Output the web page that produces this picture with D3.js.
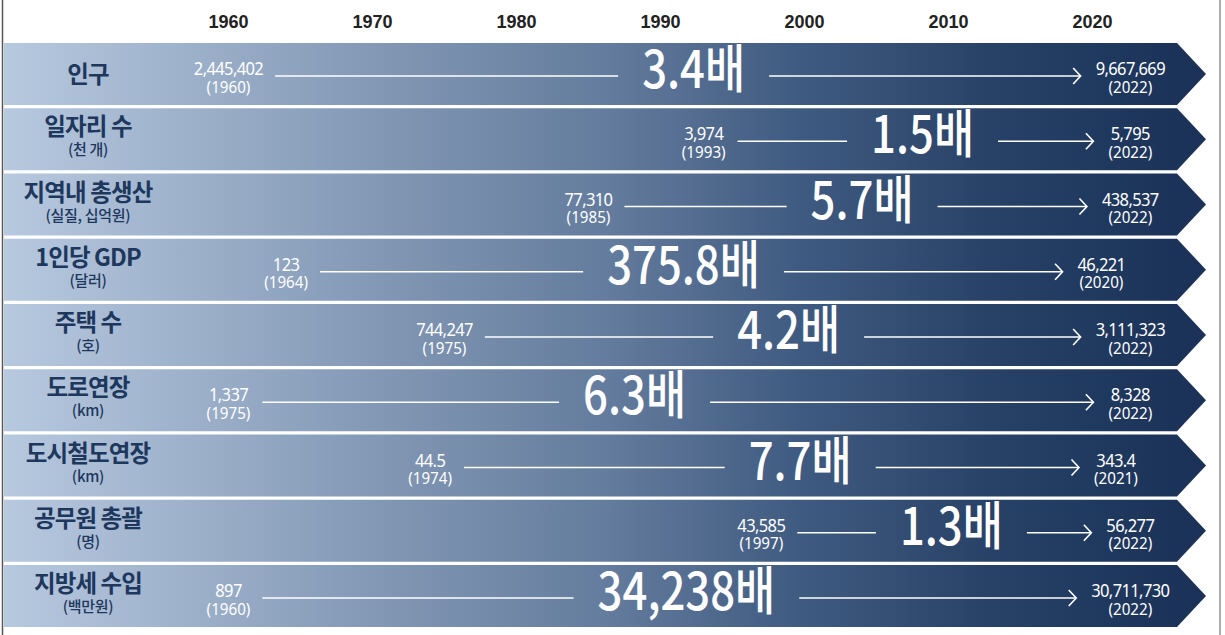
<!DOCTYPE html>
<html>
<head>
<meta charset="utf-8">
<script src="https://cdn.jsdelivr.net/npm/d3@7"></script>
<style>
  body { margin: 0; background: #fff; }
  svg { display: block; }
</style>
</head>
<body>
<div id="chart"></div>
<script>
const width = 1225,
  height = 635;

/* DATA */
const categories = ["인구", "일자리 수", "지역내 총생산", "1인당 GDP", "주택 수", "도로연장", "도시철도연장", "공무원 총괄", "지방세 수입"]
const units = ["", "(천 개)", "(실질, 십억원)", "(달러)", "(호)", "(km)", "(km)", "(명)", "(백만원)"]
const startValues = [2445402, 3974, 77310, 123, 744247, 1337, 44.5, 43585, 897]
const startYears = [1960, 1993, 1985, 1964, 1975, 1975, 1974, 1997, 1960]
const endValues = [9667669, 5795, 438537, 46221, 3111323, 8328, 343.4, 56277, 30711730]
const endYears = [2022, 2022, 2022, 2020, 2022, 2022, 2021, 2022, 2022]
const multipliers = ["3.4", "1.5", "5.7", "375.8", "4.2", "6.3", "7.7", "1.3", "34,238"]
const yearTicks = [1960, 1970, 1980, 1990, 2000, 2010, 2020]

// where the start label sits on the time axis (도로연장 is drawn at the 1960 column)
const startLabelYears = [1960, 1993, 1985, 1964, 1975, 1960, 1974, 1997, 1960]
// where the big "n배" badge sits on the time axis
const badgeYears = [1992.3, 2008.2, 2004.0, 1991.6, 1998.9, 1988.2, 1999.7, 2010.2, 1991.8]

const rows = categories.map((c, i) => ({
  name: c, unit: units[i],
  v0: startValues[i], y0: startYears[i], ly0: startLabelYears[i],
  v1: endValues[i], y1: endYears[i],
  mult: multipliers[i], badge: badgeYears[i]
}))

/* SCALES */
const xScale = d3.scaleLinear()
  .domain([1960, 2020])
  .range([228.5, 1092.5])

const yScale = d3.scaleBand()
  .domain(categories)
  .range([43, 627])
  .paddingInner(0.05)

const fmt = d3.format(",")

const svg = d3.select("#chart")
  .append("svg")
  .attr("width", width)
  .attr("height", height)

// gradient for the arrow bands
const grad = svg.append("defs").append("linearGradient")
  .attr("id", "band")
  .attr("gradientUnits", "userSpaceOnUse")
  .attr("x1", 4).attr("x2", 1206).attr("y1", 0).attr("y2", 0)
grad.selectAll("stop")
  .data([[0, "#b7c9df"], [0.12, "#a3b6cf"], [0.33, "#7f95b2"], [0.5, "#647c9d"], [0.66, "#405b81"], [0.82, "#284167"], [0.92, "#1f385e"], [1, "#1b3157"]])
  .join("stop")
  .attr("offset", d => d[0])
  .attr("stop-color", d => d[1])

// frame
svg.append("line").attr("x1", 2.5).attr("x2", 2.5).attr("y1", 0).attr("y2", height)
  .attr("stroke", "#555").attr("stroke-width", 1.5)
svg.append("line").attr("x1", 1220).attr("x2", 1220).attr("y1", 0).attr("y2", height)
  .attr("stroke", "#777").attr("stroke-width", 1.2)

// year header
svg.append("g")
  .selectAll("text")
  .data(yearTicks)
  .join("text")
  .attr("x", d => xScale(d))
  .attr("y", 28)
  .attr("text-anchor", "middle")
  .attr("font-family", "'Liberation Sans', Arial, sans-serif")
  .attr("font-weight", 700)
  .attr("font-size", 18)
  .attr("fill", "#222")
  .text(d => d)

const bw = yScale.bandwidth()
const bandLeft = 4, bandRight = 1177, tip = 1206

const g = svg.selectAll("g.row")
  .data(rows)
  .join("g")
  .attr("class", "row")
  .attr("transform", d => `translate(0, ${yScale(d.name)})`)

g.append("path")
  .attr("d", `M${bandLeft},0 H${bandRight} L${tip},${bw / 2} L${bandRight},${bw} H${bandLeft} Z`)
  .attr("fill", "url(#band)")

// left labels
const labelFont = "'Noto Sans CJK KR', 'Noto Sans', sans-serif"
g.append("text")
  .attr("x", 88)
  .attr("y", d => d.unit ? 27 : bw / 2 + 9)
  .attr("text-anchor", "middle")
  .attr("font-family", labelFont)
  .attr("font-weight", 700)
  .attr("font-size", 23.5)
  .attr("letter-spacing", -0.9)
  .attr("fill", "#1d375d")
  .text(d => d.name)

g.filter(d => d.unit).append("text")
  .attr("x", 88)
  .attr("y", 47)
  .attr("text-anchor", "middle")
  .attr("font-family", labelFont)
  .attr("font-weight", 500)
  .attr("font-size", 15)
  .attr("letter-spacing", -0.3)
  .attr("fill", "#1d375d")
  .text(d => d.unit)

// value label helper: value + (year), white, slightly condensed
const sx = 0.92
function valueLabel(sel, cxFn, valFn, yrFn) {
  const lg = sel.append("g").attr("class", "vlabel")
  lg.append("text")
    .attr("transform", d => `translate(${cxFn(d)},32) scale(${sx},1)`)
    .attr("text-anchor", "middle")
    .attr("font-family", "'Noto Sans', sans-serif")
    .attr("font-size", 18)
    .attr("letter-spacing", -0.7)
    .attr("fill", "#fff")
    .text(valFn)
  lg.append("text")
    .attr("transform", d => `translate(${cxFn(d)},49.5) scale(${sx},1)`)
    .attr("text-anchor", "middle")
    .attr("font-family", "'Noto Sans', sans-serif")
    .attr("font-size", 16.5)
    .attr("fill", "#fff")
    .text(yrFn)
  return lg
}

const startLab = valueLabel(g, d => xScale(d.ly0), d => fmt(d.v0), d => `(${d.y0})`)
const endLab = valueLabel(g, d => xScale(d.y1) + 9, d => fmt(d.v1), d => `(${d.y1})`)

// multiplier badge
const bsx = 0.84
const badge = g.append("text")
  .attr("class", "badge")
  .attr("transform", d => `translate(${xScale(d.badge)},${45}) scale(${bsx},1)`)
  .attr("text-anchor", "middle")
  .attr("font-family", labelFont)
  .attr("font-weight", 500)
  .attr("font-size", 52)
  .attr("fill", "#fff")
  .text(d => d.mult + "배")

// connecting lines and arrows
const lineY = 33
g.each(function(d) {
  const row = d3.select(this)
  const sNodes = row.selectAll("g.vlabel").nodes()
  const sW = d3.max(d3.select(sNodes[0]).selectAll("text").nodes(), n => n.getComputedTextLength() * sx)
  const eW = d3.max(d3.select(sNodes[1]).selectAll("text").nodes(), n => n.getComputedTextLength() * sx)
  const bW = row.select("text.badge").node().getComputedTextLength() * bsx
  const x0 = xScale(d.ly0) + sW / 2 + 12
  const bc = xScale(d.badge)
  const x1 = bc - bW / 2 - 24
  const x2 = bc + bW / 2 + 24
  const x3 = xScale(d.y1) + 9 - eW / 2 - 15

  row.append("line")
    .attr("x1", x0).attr("x2", x1).attr("y1", lineY).attr("y2", lineY)
    .attr("stroke", "#fff").attr("stroke-width", 1.6)
  row.append("line")
    .attr("x1", x2).attr("x2", x3).attr("y1", lineY).attr("y2", lineY)
    .attr("stroke", "#fff").attr("stroke-width", 1.6)
  row.append("path")
    .attr("d", `M${x3 - 7.5},${lineY - 8} L${x3},${lineY} L${x3 - 7.5},${lineY + 8}`)
    .attr("fill", "none")
    .attr("stroke", "#fff").attr("stroke-width", 1.6)
})
</script>
</body>
</html>
